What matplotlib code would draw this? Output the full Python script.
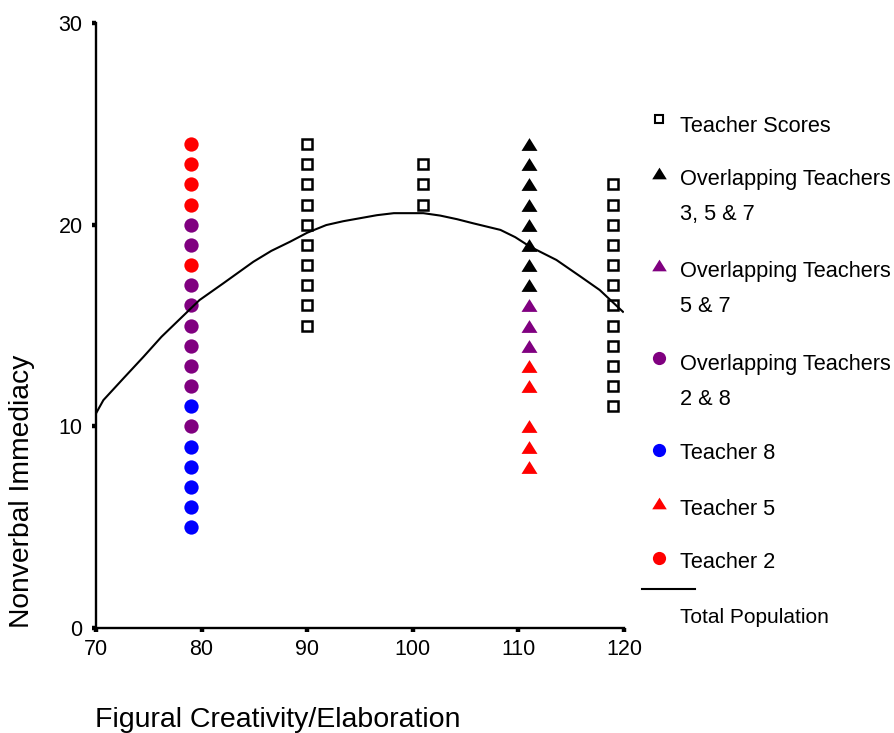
import matplotlib

matplotlib.use("Agg")
import matplotlib.pyplot as plt  # noqa: E402

plt.rcParams["font.family"] = ["Liberation Sans", "DejaVu Sans"]

# Figural creativity score of each teacher column
X_TEACHER_2_8 = 79
X_MIDDLE = 90
X_TOP = 101
X_TEACHER_3_5_7 = 111
X_RIGHT = 119

# Open squares: all teacher scores
scores_x = [X_MIDDLE] * 10 + [X_TOP] * 3 + [X_RIGHT] * 12
scores_y = ([24, 23, 22, 21, 20, 19, 18, 17, 16, 15]
            + [23, 22, 21]
            + [22, 21, 20, 19, 18, 17, 16, 15, 14, 13, 12, 11])

# Circles at 79
teacher2_y = [24, 23, 22, 21, 18]
overlap_2_8_y = [20, 19, 17, 16, 15, 14, 13, 12, 10]
teacher8_y = [11, 9, 8, 7, 6, 5]

# Triangles at 111
overlap_3_5_7_y = [24, 23, 22, 21, 20, 19, 18, 17]
overlap_5_7_y = [16, 15, 14]
teacher5_y = [13, 12, 10, 9, 8]

# Fitted curve for the total population
pop_x = [70.0, 70.7, 72.6, 74.5, 76.2, 78.0, 79.8, 82.05, 84.9, 86.6, 88.4, 90.0,
         91.8, 93.4, 95.0, 96.6, 98.2, 101.0, 102.6, 104.2, 105.7, 108.3, 109.7,
         111.1, 113.6, 115.9, 117.7, 119.9]
pop_y = [10.64, 11.30, 12.38, 13.45, 14.44, 15.35, 16.26, 17.09, 18.16, 18.70, 19.16,
         19.60, 19.98, 20.17, 20.32, 20.47, 20.57, 20.57, 20.45, 20.27, 20.07, 19.74,
         19.38, 18.91, 18.25, 17.42, 16.76, 15.68]

RED = "#ff0000"
PURPLE = "#800080"
BLUE = "#0000ff"
BLACK = "#000000"

# wide, flat triangle
TRI = [(-1, -0.8), (1, -0.8), (0, 0.8), (-1, -0.8)]

W, H = 894, 733
fig = plt.figure(figsize=(W / 100, H / 100), dpi=100)
ax = fig.add_axes([96 / W, (H - 628) / H, (624 - 96) / W, (628 - 23) / H])


def circles(y, color):
    ax.plot([X_TEACHER_2_8] * len(y), y, "o", ms=10.3, color=color, mec="none",
            zorder=3)


def triangles(y, color):
    ax.plot([X_TEACHER_3_5_7] * len(y), y, ls="none", marker=TRI, ms=11.5,
            color=color, mec="none", zorder=3)


ax.plot(scores_x, scores_y, "s", ms=7.2, mfc="white", mec=BLACK, mew=1.8, ls="none",
        zorder=3)
circles(teacher2_y, RED)
circles(overlap_2_8_y, PURPLE)
circles(teacher8_y, BLUE)
triangles(overlap_3_5_7_y, BLACK)
triangles(overlap_5_7_y, PURPLE)
triangles(teacher5_y, RED)
ax.plot(pop_x, pop_y, color=BLACK, lw=1.5, zorder=4)

ax.set_xlim(70, 120)
ax.set_ylim(0, 30)
ax.set_xticks([70, 80, 90, 100, 110, 120])
ax.set_yticks([0, 10, 20, 30])
for s in ("top", "right"):
    ax.spines[s].set_visible(False)
for s in ("left", "bottom"):
    ax.spines[s].set_linewidth(1.7)
ax.tick_params(direction="out", length=3.2, width=3.2, labelsize=15.5, pad=4.5)
ax.tick_params(axis="y", pad=6.5)

fig.text(22 / W, 1 - 491 / H, "Nonverbal Immediacy", rotation=90, ha="center",
         va="center", fontsize=20.3)
fig.text(95 / W, 1 - 727 / H, "Figural Creativity/Elaboration", ha="left",
         va="baseline", fontsize=20.5)

# legend, drawn by hand so the keys sit beside the first line of each entry
MX = 658.5 / W
TX = 679.5 / W


def key(y_px, **kw):
    fig.lines.append(plt.Line2D([MX], [1 - y_px / H], transform=fig.transFigure,
                                ls="none", **kw))


def label(y_px, text, size=15.7):
    fig.text(TX, 1 - y_px / H, text, ha="left", va="baseline", fontsize=size)


key(118.5, marker="s", ms=5.3, mfc="white", mec=BLACK, mew=1.5)
label(131.7, "Teacher Scores")
key(173, marker=TRI, ms=10.5, color=BLACK, mec="none")
label(185, "Overlapping Teachers")
label(220, "3, 5 & 7")
key(265, marker=TRI, ms=10.5, color=PURPLE, mec="none")
label(276.7, "Overlapping Teachers")
label(311.7, "5 & 7")
key(358, marker="o", ms=9.5, color=PURPLE, mec="none")
label(370, "Overlapping Teachers")
label(405, "2 & 8")
key(450, marker="o", ms=9.5, color=BLUE, mec="none")
label(459, "Teacher 8")
key(503, marker=TRI, ms=10.5, color=RED, mec="none")
label(515, "Teacher 5")
key(558, marker="o", ms=9.5, color=RED, mec="none")
label(568, "Teacher 2")
fig.lines.append(plt.Line2D([642 / W, 695 / W], [1 - 589 / H] * 2,
                            transform=fig.transFigure, color=BLACK, lw=1.5))
label(623, "Total Population", size=15.0)

fig.savefig("out.png", dpi=100)
